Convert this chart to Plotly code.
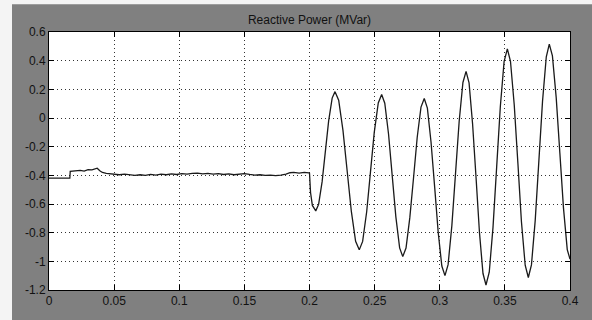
import plotly.graph_objects as go

# Time (s) and reactive power (MVar)
time_s = [
    0.0, 0.016, 0.0163, 0.020, 0.024, 0.027, 0.030, 0.033, 0.0355, 0.037, 0.039,
    0.041, 0.044, 0.047, 0.050, 0.054, 0.058, 0.062, 0.066, 0.070, 0.074, 0.078,
    0.082, 0.086, 0.090, 0.094, 0.098, 0.102, 0.106, 0.110, 0.114, 0.118, 0.122,
    0.126, 0.130, 0.134, 0.138, 0.142, 0.146, 0.150, 0.154, 0.158, 0.162, 0.166,
    0.170, 0.174, 0.178, 0.182, 0.185, 0.188, 0.192, 0.196, 0.1995,
    0.2000, 0.2008, 0.2022, 0.2048,
    0.2070, 0.2097, 0.2122, 0.2147, 0.2174, 0.2196,
    0.2224, 0.2257, 0.2289, 0.2321, 0.2354, 0.2382,
    0.2408, 0.2439, 0.2468, 0.2497, 0.2528, 0.2554,
    0.2578, 0.2607, 0.2635, 0.2663, 0.2692, 0.2716,
    0.2741, 0.2770, 0.2799, 0.2827, 0.2856, 0.2881,
    0.2905, 0.2933, 0.2961, 0.2988, 0.3016, 0.3040,
    0.3064, 0.3093, 0.3121, 0.3149, 0.3178, 0.3202,
    0.3225, 0.3252, 0.3279, 0.3305, 0.3332, 0.3355,
    0.3380, 0.3409, 0.3437, 0.3465, 0.3494, 0.3519,
    0.3543, 0.3572, 0.3600, 0.3627, 0.3656, 0.3680,
    0.3704, 0.3733, 0.3761, 0.3789, 0.3818, 0.3841,
    0.3865, 0.3894, 0.3922, 0.3950, 0.3979, 0.4000,
]
reactive_mvar = [
    -0.420, -0.420, -0.372, -0.370, -0.366, -0.370, -0.360, -0.362, -0.352, -0.350, -0.368,
    -0.380, -0.386, -0.390, -0.392, -0.396, -0.392, -0.398, -0.400, -0.396, -0.400, -0.394,
    -0.398, -0.392, -0.396, -0.390, -0.394, -0.388, -0.392, -0.386, -0.384, -0.390, -0.386,
    -0.392, -0.388, -0.394, -0.390, -0.396, -0.392, -0.388, -0.394, -0.398, -0.396, -0.400,
    -0.398, -0.402, -0.398, -0.392, -0.382, -0.380, -0.384, -0.380, -0.383,
    -0.385, -0.520, -0.610, -0.648,
    -0.603, -0.444, -0.232, -0.020, 0.139, 0.184,
    0.124, -0.086, -0.368, -0.650, -0.860, -0.920,
    -0.861, -0.654, -0.378, -0.102, 0.105, 0.164,
    0.103, -0.113, -0.402, -0.690, -0.906, -0.967,
    -0.907, -0.697, -0.415, -0.134, 0.076, 0.136,
    0.069, -0.167, -0.482, -0.797, -1.033, -1.100,
    -1.023, -0.751, -0.388, -0.024, 0.248, 0.325,
    0.245, -0.040, -0.420, -0.800, -1.085, -1.165,
    -1.076, -0.761, -0.341, 0.078, 0.393, 0.482,
    0.396, 0.091, -0.316, -0.722, -1.027, -1.113,
    -1.025, -0.714, -0.299, 0.116, 0.427, 0.515,
    0.433, 0.144, -0.243, -0.629, -0.918, -0.985,
]

x_ticks = [0, 0.05, 0.1, 0.15, 0.2, 0.25, 0.3, 0.35, 0.4]
x_labels = ["0", "0.05", "0.1", "0.15", "0.2", "0.25", "0.3", "0.35", "0.4"]
y_ticks = [-1.2, -1.0, -0.8, -0.6, -0.4, -0.2, 0.0, 0.2, 0.4, 0.6]
y_labels = ["-1.2", "-1", "-0.8", "-0.6", "-0.4", "-0.2", "0", "0.2", "0.4", "0.6"]
title_text = "Reactive Power (MVar)"

fig = go.Figure()
fig.add_trace(go.Scatter(
    x=time_s, y=reactive_mvar, mode="lines",
    line=dict(color="#1a1a1a", width=1.3),
    showlegend=False, hoverinfo="skip",
))

W, H = 592, 320
L, R, T, B = 49, 22, 32, 28
pw, ph = W - L - R, H - T - B

axis_common = dict(
    showline=True, linecolor="black", linewidth=1, mirror="ticks",
    ticks="inside", ticklen=5, tickcolor="black", tickwidth=1,
    showgrid=True, gridcolor="#333333", gridwidth=1, griddash="1px,3px",
    zeroline=False,
    tickfont=dict(family="Liberation Sans, Arial, sans-serif", size=12, color="#111111"),
)

fig.update_layout(
    width=W, height=H,
    margin=dict(l=L, r=R, t=T, b=B, pad=0),
    paper_bgcolor="#808080",
    plot_bgcolor="white",
    title=dict(
        text=title_text, x=0.5, xref="paper", xanchor="center",
        y=1 - 20 / H, yref="container", yanchor="middle",
        font=dict(family="Liberation Sans, Arial, sans-serif", size=12, color="#111111"),
    ),
    xaxis=dict(range=[0, 0.4], tickvals=x_ticks, ticktext=x_labels, **axis_common),
    yaxis=dict(range=[-1.2, 0.6], tickvals=y_ticks, ticktext=y_labels, **axis_common),
    shapes=[
        dict(type="rect", xref="paper", yref="paper", layer="above",
             x0=-(L + 5) / pw, x1=(12 - L) / pw, y0=-(B + 5) / ph, y1=1 + (T + 5) / ph,
             fillcolor="#f4f4f4", line=dict(width=0)),
        dict(type="rect", xref="paper", yref="paper", layer="above",
             x0=-(L + 5) / pw, x1=1 + (R + 5) / pw, y0=1 + (T - 4) / ph, y1=1 + (T + 5) / ph,
             fillcolor="#f4f4f4", line=dict(width=0)),
    ],
)

fig.write_html(
    "out.html",
    config={"displayModeBar": False},
    post_script="document.body.style.margin='0';document.body.style.overflow='hidden';",
)
